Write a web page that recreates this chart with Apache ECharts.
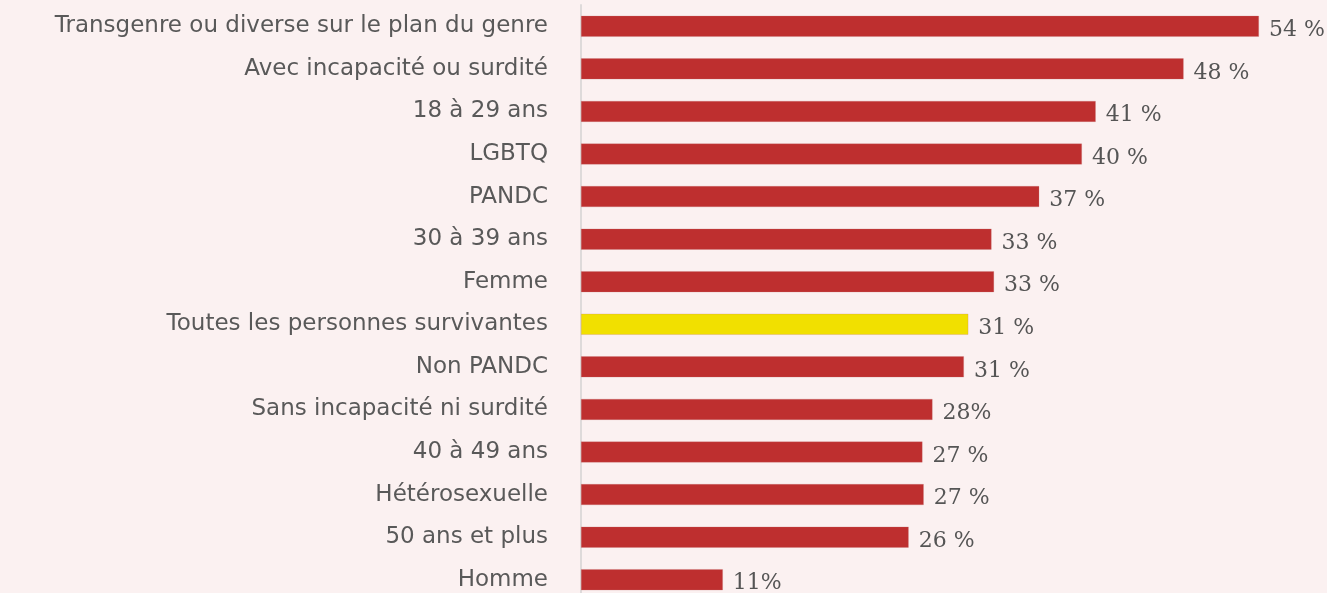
<!DOCTYPE html>
<html><head><meta charset="utf-8">
<script src="https://cdn.jsdelivr.net/npm/echarts@6/dist/echarts.min.js"></script>
<style>html,body{margin:0;padding:0;background:#fbf1f1;overflow:hidden;height:593px;}#c{width:1327px;height:605px;}</style>
</head><body><div id="c"></div>
<script>
const categories = ["Transgenre ou diverse sur le plan du genre","Avec incapacité ou surdité","18 à 29 ans","LGBTQ","PANDC","30 à 39 ans","Femme","Toutes les personnes survivantes","Non PANDC","Sans incapacité ni surdité","40 à 49 ans","Hétérosexuelle","50 ans et plus","Homme"];
const values = [54, 48, 41, 39.9, 36.5, 32.7, 32.9, 30.85, 30.5, 28, 27.2, 27.3, 26.1, 11.3];
const valueLabels = ["54 %","48 %","41 %","40 %","37 %","33 %","33 %","31 %","31 %","28%","27 %","27 %","26 %","11%"];
const highlightIndex = 7;

const chart = echarts.init(document.getElementById('c'), null, {renderer:'canvas'});
chart.setOption({
  backgroundColor:'#fbf1f1',
  animation:false,
  grid:{left:581, top:5, right:55.5, bottom:4, containLabel:false},
  xAxis:{type:'value', min:0, max:55, show:false},
  yAxis:{type:'category', data:categories, inverse:true,
    axisLine:{show:true, lineStyle:{color:'#dedada', width:2}},
    axisTick:{show:false},
    axisLabel:{color:'#595959', fontFamily:'"DejaVu Sans", sans-serif', fontSize:23, margin:33}
  },
  series:[{
    type:'bar', barWidth:21,
    data: values.map((v,i)=>({value:v, itemStyle:{color: i===highlightIndex ? '#f1e000' : '#be2f2f'}})),
    itemStyle:{borderColor:'rgba(200,120,120,0.5)', borderWidth:0.5},
    label:{show:true, position:'right', distance:10, offset:[0,4], color:'#555555',
      fontFamily:'"DejaVu Serif", serif', fontSize:22,
      formatter:(p)=>valueLabels[p.dataIndex]}
  }]
});
</script></body></html>
